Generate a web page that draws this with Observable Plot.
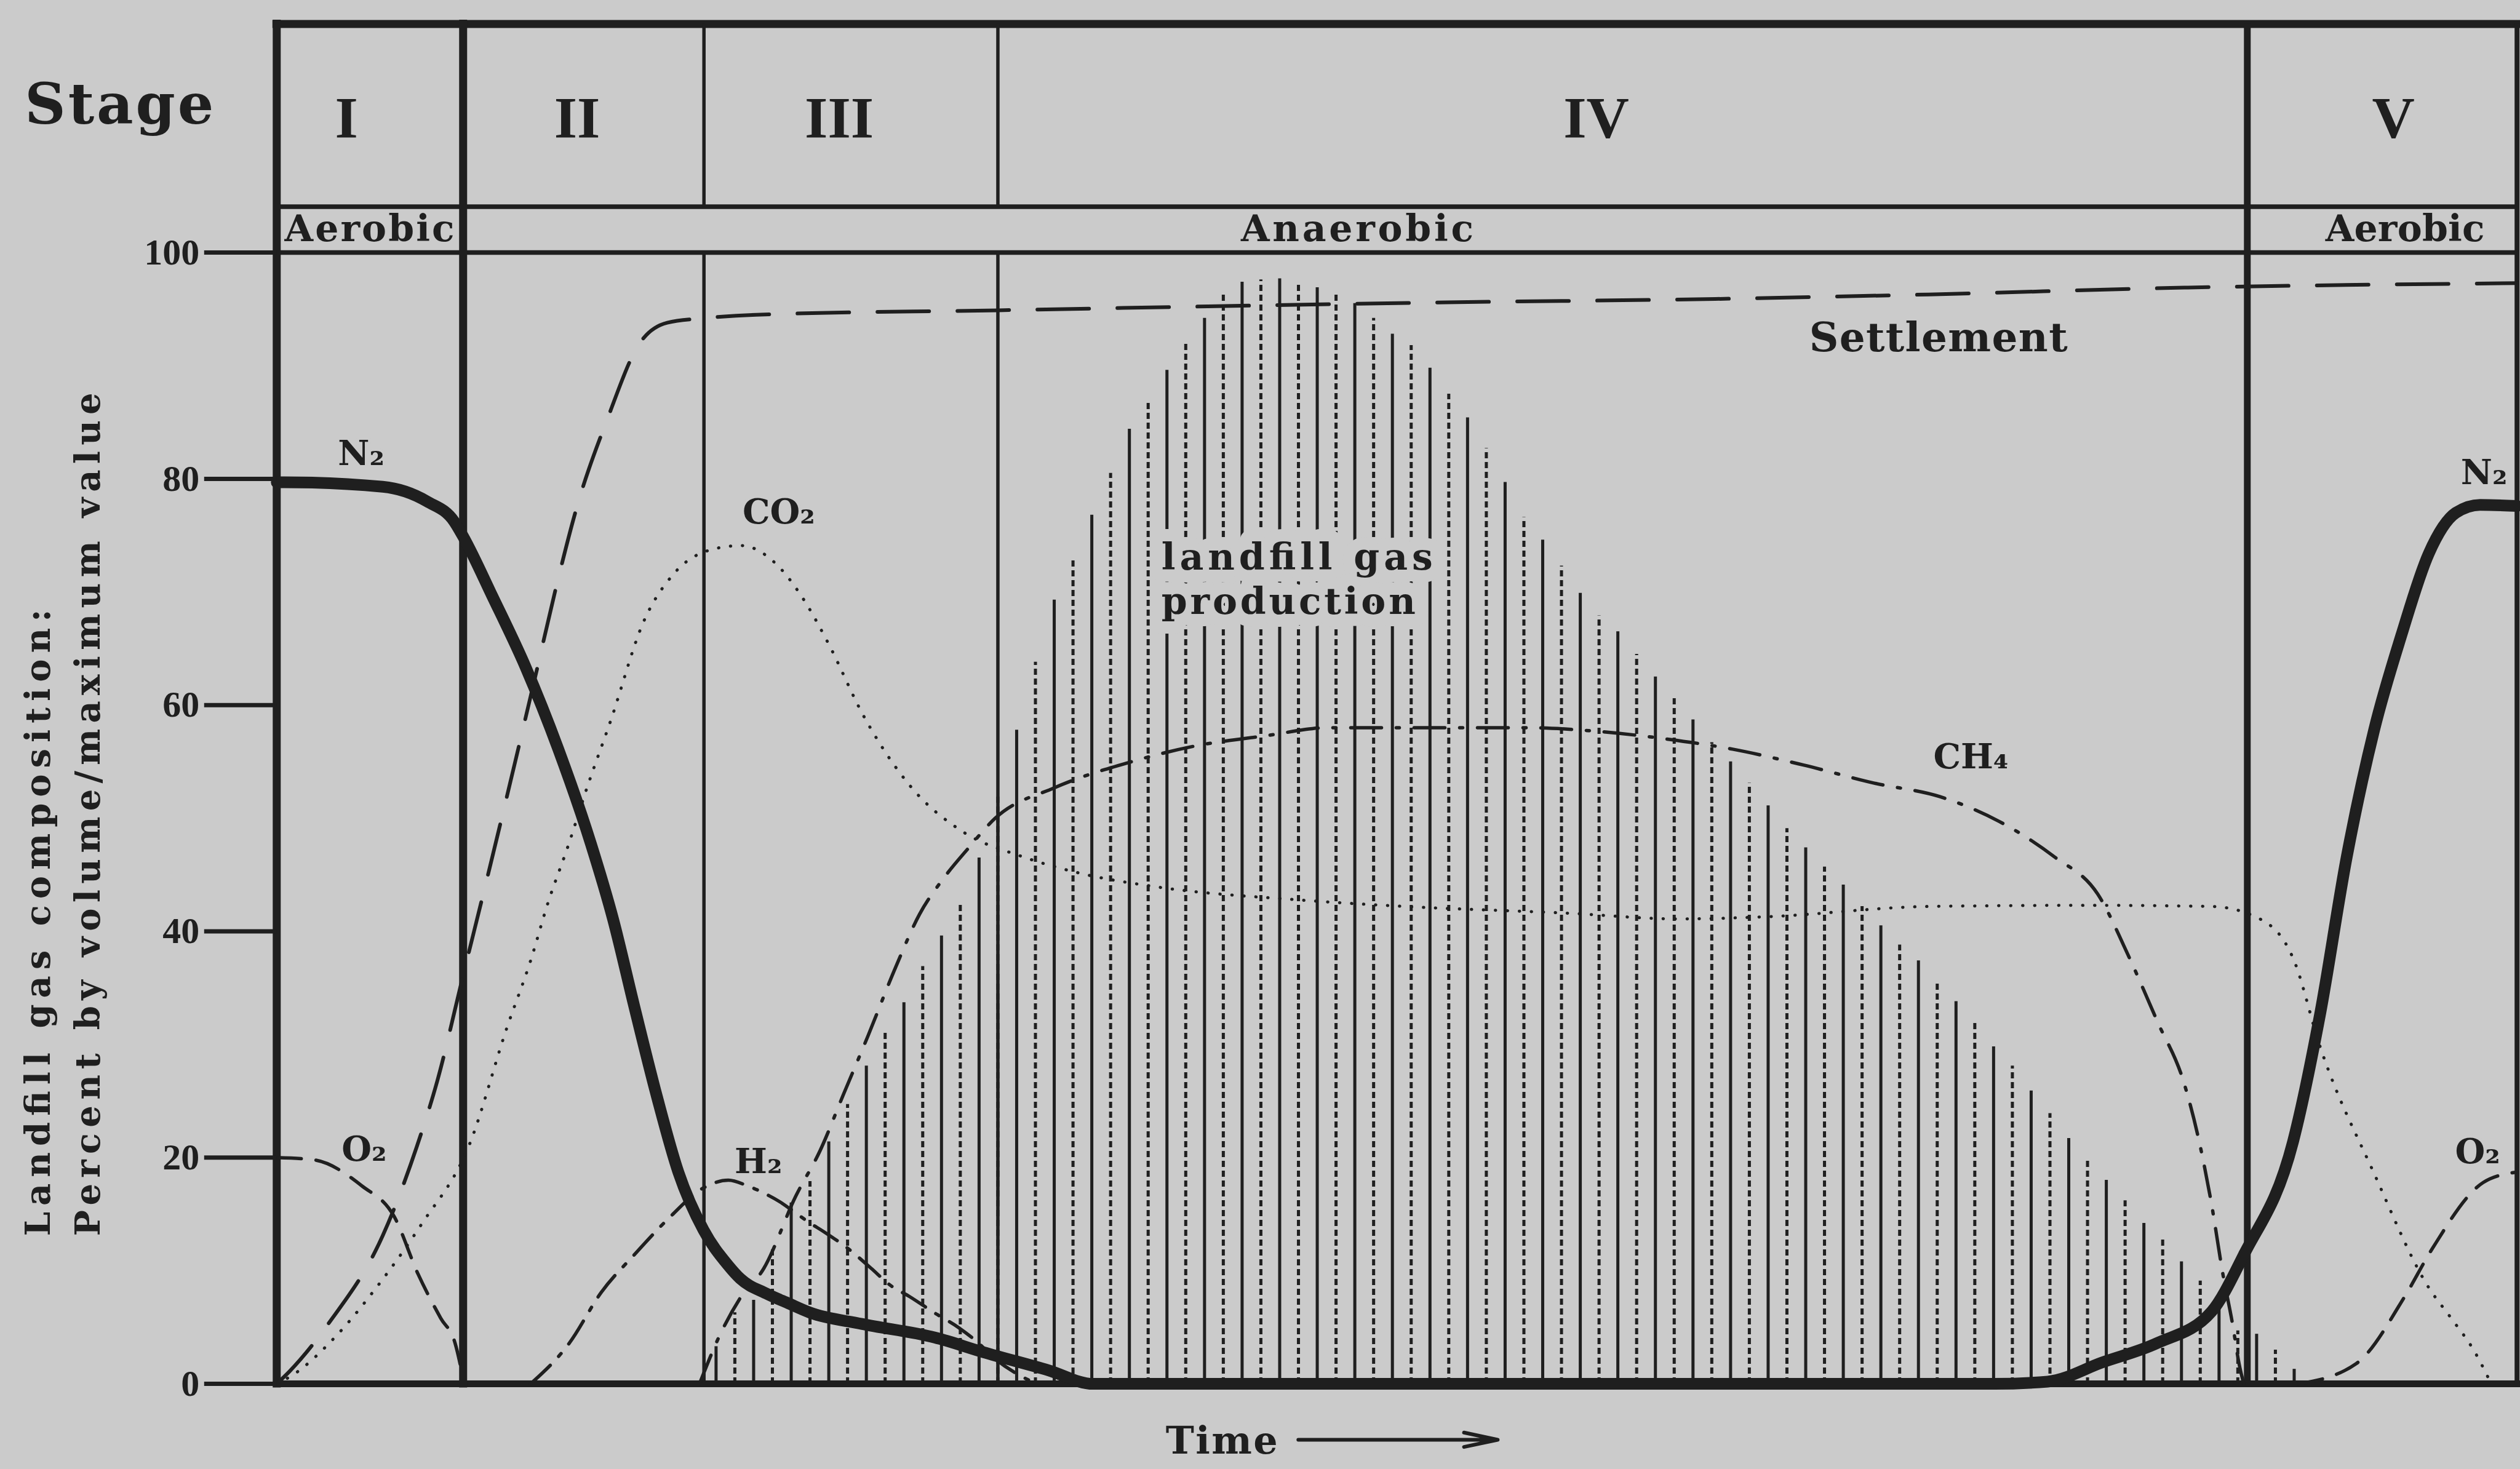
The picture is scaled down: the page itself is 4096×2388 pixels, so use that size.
<!DOCTYPE html>
<html>
<head>
<meta charset="utf-8">
<script src="https://cdn.jsdelivr.net/npm/d3@7"></script>
<script src="https://cdn.jsdelivr.net/npm/@observablehq/plot@0.6"></script>
<style>
  html, body { margin: 0; padding: 0; background: #cbcbcb; overflow: hidden; }
  #chart svg { display: block; }
</style>
</head>
<body>
<div id="chart"></div>
<script>
// ---------------- data (time in arbitrary units 0–100, values in % of volume / max) ----------------
const stageNames = ["I", "II", "III", "IV", "V"];
const stageBounds = [0, 8.32, 19.07, 32.19, 87.96, 100];
const phaseNames = ["Aerobic", "Anaerobic", "Aerobic"];
const yTicks = [0, 20, 40, 60, 80, 100];

const n2Time  = [0, 0.36, 4.73, 6.71, 7.93, 8.32, 9.63, 11.1, 12.57, 14.03, 15.01, 15.98, 16.97, 17.93, 19.05, 20.14, 20.69, 21.84, 22.86, 23.8, 26.11, 29.37, 31.54, 34.45, 36.44, 76.66, 79.05, 81.49, 83.93, 86.37, 87.8, 90.0, 91.21, 92.4, 93.62, 94.84, 96.06, 97.27, 98.35, 100];
const n2Value = [79.7, 79.7, 79.3, 78.0, 76.2, 74.9, 69.6, 63.4, 56.1, 47.7, 41.1, 33.2, 25.4, 18.7, 13.6, 10.5, 9.3, 8.0, 7.1, 6.3, 5.3, 4.1, 2.8, 1.2, 0, 0, 0.2, 1.9, 3.6, 6.4, 11.4, 21.4, 32.7, 46.6, 57.8, 66.2, 73.4, 77.0, 77.7, 77.6];

const co2Time  = [0, 0.65, 2.73, 4.52, 6.46, 8.61, 10.26, 11.33, 12.12, 12.98, 13.85, 14.92, 16.36, 17.72, 19.51, 20.73, 22.17, 23.53, 24.61, 26.18, 28.34, 30.63, 33.29, 35.72, 39.38, 45.48, 50.36, 57.68, 62.55, 66.57, 73.74, 80.92, 86.37, 88.52, 90.03, 91.21, 93.62, 96.06, 97.06, 98.06, 98.85];
const co2Value = [0, 0.7, 4.4, 8.7, 14.1, 21.2, 31.4, 37.4, 42.6, 47.4, 52.7, 58.7, 67.3, 71.6, 73.8, 74.1, 72.7, 69.3, 65.5, 59.1, 52.7, 48.8, 46.6, 45.2, 43.9, 42.8, 42.2, 41.6, 41.1, 41.3, 42.2, 42.3, 42.2, 41.1, 37.5, 29.8, 18.6, 8.5, 5.8, 3.0, 0];

const settleTime  = [0, 0.57, 2.3, 4.73, 6.24, 7.17, 8.32, 9.54, 10.62, 11.55, 12.48, 13.41, 14.78, 16.14, 17.43, 19.08, 21.38, 32.21, 52.22, 64.2, 73.74, 85.15, 100];
const settleValue = [0, 1.1, 5.3, 13.1, 20.9, 26.8, 36.1, 45.9, 54.8, 62.6, 70.5, 77.6, 85.4, 91.8, 93.8, 94.2, 94.5, 94.9, 95.6, 95.9, 96.3, 96.9, 97.3];

const ch4Time  = [18.87, 19.8, 20.66, 21.74, 23.17, 24.25, 25.32, 26.4, 27.62, 28.69, 29.77, 30.85, 32.07, 34.72, 38.16, 41.03, 44.19, 46.91, 50.29, 55.88, 58.82, 62.05, 64.99, 68.15, 71.31, 74.25, 76.9, 79.34, 81.28, 82.71, 83.93, 85.15, 85.87, 86.37, 86.87, 87.3, 87.59, 87.8];
const ch4Value = [0, 4.4, 7.5, 10.2, 16.6, 20.6, 25.7, 30.8, 36.8, 41.5, 44.7, 47.3, 50.0, 52.7, 55.0, 56.4, 57.3, 58.0, 58.0, 58.0, 57.7, 57.0, 56.1, 54.7, 53.1, 51.9, 49.7, 46.6, 43.3, 37.6, 32.1, 26.5, 20.9, 15.8, 9.7, 5.3, 1.8, 0];

const h2Time  = [11.33, 13.06, 14.49, 16.0, 17.58, 18.94, 20.16, 21.02, 21.81, 22.45, 23.1, 23.74, 24.46, 25.54, 26.54, 27.4, 28.26, 29.34, 30.42, 31.21, 32.14, 33.21, 33.93];
const h2Value = [0, 3.6, 8.1, 11.5, 14.8, 17.2, 18.0, 17.5, 16.8, 16.1, 15.2, 14.3, 13.4, 11.9, 10.2, 8.7, 7.7, 6.3, 5.0, 3.8, 2.1, 0.7, 0];

const o2StartTime  = [0, 1.65, 3.8, 5.24, 6.31, 7.32, 7.96, 8.32];
const o2StartValue = [20.0, 19.8, 17.5, 14.8, 9.7, 5.8, 3.6, 0.5];
const o2EndTime    = [90.24, 92.83, 94.98, 96.2, 98.49, 99.93];
const o2EndValue   = [0, 1.8, 7.7, 11.9, 17.8, 18.7];

// landfill gas production (hatching), one value per hatch line, regular time spacing
const prodStart = 19.61, prodSpacing = 0.8386;
const prodValue = [3.3, 6.3, 7.4, 11.9, 16.0, 17.9, 21.4, 24.7, 28.1, 31.0, 33.7, 36.9, 39.6, 42.5, 46.5, 52.0, 57.8, 63.8, 69.3, 73.0, 76.8, 80.5, 84.4, 87.0, 89.6, 92.0, 94.2, 96.3, 97.4, 97.6, 97.7, 97.4, 96.9, 96.3, 95.5, 94.2, 92.8, 91.8, 89.8, 87.5, 85.4, 82.7, 79.7, 76.6, 74.6, 72.3, 69.9, 67.9, 66.5, 64.5, 62.5, 60.9, 58.7, 56.7, 55.0, 53.1, 51.1, 49.1, 47.4, 45.7, 44.1, 42.2, 40.5, 38.8, 37.4, 35.4, 33.8, 32.1, 29.8, 28.1, 25.9, 23.9, 21.7, 19.7, 18.0, 16.2, 14.2, 12.8, 10.8, 9.1, 6.9, 4.7, 4.4, 3.0, 1.3];

// ---------------- annotation anchors (data space) ----------------
const stageLabelT = [3.11, 13.41, 25.11, 58.9, 94.48];
const phaseLabelT = [4.14, 48.23, 95.0];
const headerTop = 120.2, headerMid = 104.05, stageRowY = 111.8, phaseRowY = 102.05;
const productionLines = ["landfill gas", "production"];
const curveLabels = [
  {text: "N₂", t: 3.77, v: 82.2},
  {text: "N₂", t: 98.53, v: 80.5},
  {text: "CO₂", t: 22.41, v: 77.0},
  {text: "H₂", t: 21.5, v: 19.6},
  {text: "O₂", t: 3.9, v: 20.7},
  {text: "O₂", t: 98.24, v: 20.5},
  {text: "CH₄", t: 75.62, v: 55.4}
];

// ---------------- styling ----------------
const ink = "#1f1f1f", paper = "#cbcbcb";
const serif = "'DejaVu Serif', serif";
const times = "'Liberation Serif', serif";

const pts = (time, value) => time.map((t, i) => ({t, v: value[i]}));
const n2 = pts(n2Time, n2Value);
const co2 = pts(co2Time, co2Value);
const settle = pts(settleTime, settleValue);
const ch4 = pts(ch4Time, ch4Value);
const h2 = pts(h2Time, h2Value);
const o2a = pts(o2StartTime, o2StartValue);
const o2b = pts(o2EndTime, o2EndValue);
const prod = prodValue.map((v, i) => ({t: prodStart + i * prodSpacing, v, i}));

const lineOpts = {x: "t", y: "v", curve: "monotone-x", stroke: ink, fill: "none"};
const lfgOpts = {x: 39.49, y: (d, i) => [73.0, 69.1][i], text: d => d, textAnchor: "start",
  fontSize: 60, fontFamily: serif, fontWeight: "bold"};

const chart = Plot.plot({
  width: 4096,
  height: 2388,
  marginLeft: 449.3,
  marginRight: 5.3,
  marginTop: 410.1,
  marginBottom: 138.9,
  x: {domain: [0, 100], axis: null},
  y: {domain: [0, 100], axis: null},
  style: {background: paper, color: ink, fontFamily: serif, fontWeight: "bold", overflow: "visible"},
  marks: [
    // landfill gas production hatching
    Plot.ruleX(prod.filter(d => d.i % 2 === 0), {x: "t", y1: 0, y2: "v", stroke: ink, strokeWidth: 5}),
    Plot.ruleX(prod.filter(d => d.i % 2 === 1), {x: "t", y1: 0, y2: "v", stroke: ink, strokeWidth: 5, strokeDasharray: "10,6"}),

    // frame and stage grid
    Plot.ruleY([headerTop], {x1: 0, x2: 100, stroke: ink, strokeWidth: 13, strokeLinecap: "square"}),
    Plot.ruleY([headerMid], {x1: 0, x2: 100, stroke: ink, strokeWidth: 7.5}),
    Plot.ruleY([100], {x1: 0, x2: 100, stroke: ink, strokeWidth: 7.5}),
    Plot.ruleY([0], {x1: 0, x2: 100, stroke: ink, strokeWidth: 11, strokeLinecap: "square"}),
    Plot.ruleX([stageBounds[0], stageBounds[1]], {y1: 0, y2: headerTop, stroke: ink, strokeWidth: 13, strokeLinecap: "square"}),
    Plot.ruleX([stageBounds[4]], {y1: 0, y2: headerTop, stroke: ink, strokeWidth: 11}),
    Plot.ruleX([stageBounds[5]], {y1: 0, y2: headerTop, stroke: ink, strokeWidth: 8}),
    Plot.ruleX([stageBounds[2], stageBounds[3]], {y1: 0, y2: 100, stroke: ink, strokeWidth: 5.5}),
    Plot.ruleX([stageBounds[2], stageBounds[3]], {y1: headerMid, y2: headerTop, stroke: ink, strokeWidth: 5.5}),

    // gas curves
    Plot.line(co2, {...lineOpts, strokeWidth: 5, strokeDasharray: "0.5,19", strokeLinecap: "round"}),
    Plot.line(settle, {...lineOpts, strokeWidth: 6, strokeDasharray: "84,46"}),
    Plot.line(ch4, {...lineOpts, strokeWidth: 5.5, strokeDasharray: "50,24,5,24"}),
    Plot.line(h2, {...lineOpts, strokeWidth: 5.5, strokeDasharray: "44,20,6,20"}),
    Plot.line(o2a, {...lineOpts, strokeWidth: 5.5, strokeDasharray: "40,24"}),
    Plot.line(o2b, {...lineOpts, strokeWidth: 5.5, strokeDasharray: "40,24"}),
    Plot.line(n2, {...lineOpts, strokeWidth: 19, strokeLinejoin: "round"}),

    // y axis
    Plot.axisY({ticks: yTicks, tickSize: 117.5, tickPadding: 8, stroke: ink, strokeWidth: 7,
      fontSize: 60, fontFamily: times, fontWeight: "bold", label: null, tickFormat: d => String(d)}),

    // header texts
    Plot.text(["Stage"], {x: -7.03, y: 113.0, text: d => d, fontSize: 92, fontFamily: serif, fontWeight: "bold", fill: ink}),
    Plot.text(stageNames, {x: (d, i) => stageLabelT[i], y: stageRowY, text: d => d, fontSize: 96, fontFamily: times, fontWeight: "bold", fill: ink}),
    Plot.text(phaseNames, {x: (d, i) => phaseLabelT[i], y: phaseRowY, text: d => d, fontSize: 60, fontFamily: serif, fontWeight: "bold", fill: ink}),

    // y-axis title
    Plot.text(["Landfill gas composition:", "Percent by volume/maximum value"], {
      x: (d, i) => [-10.62, -8.39][i], y: 13.07, text: d => d, rotate: -90, textAnchor: "start",
      fontSize: 56, fontFamily: serif, fontWeight: "bold", fill: ink}),

    // "landfill gas production": clear patch first, then the words
    Plot.text(productionLines, {...lfgOpts, fill: paper, stroke: paper, strokeWidth: 40, strokeLinejoin: "round"}),
    Plot.text(productionLines, {...lfgOpts, fill: ink}),

    Plot.text(["Settlement"], {x: 74.17, y: 92.4, text: d => d, fontSize: 66, fontFamily: serif, fontWeight: "bold", fill: ink}),
    Plot.text(curveLabels, {x: "t", y: "v", text: "text", fontSize: 56, fontFamily: serif, fontWeight: "bold",
      fill: ink, stroke: paper, strokeWidth: 10, strokeLinejoin: "round"}),

    // time axis label
    Plot.text(["Time"], {x: 42.18, y: -5.1, text: d => d, fontSize: 62, fontFamily: serif, fontWeight: "bold", fill: ink}),
    Plot.arrow([{a: 45.6, b: 54.5, y: -4.94}], {x1: "a", x2: "b", y1: "y", y2: "y", stroke: ink, strokeWidth: 6, headLength: 14, headAngle: 24})
  ]
});

// fit the wide labels to the widths seen in the figure
const fitWidths = {
  "Landfill gas composition:": [1019],
  "Percent by volume/maximum value": [1371],
  "landfill gas": [441, 441],
  "production": [413, 413],
  "Settlement": [420],
  "Aerobic": [276, 259],
  "Anaerobic": [378],
  "Stage": [307],
  "Time": [182]
};
const used = {};
chart.querySelectorAll("text").forEach(el => {
  const s = el.textContent;
  const arr = fitWidths[s];
  if (!arr) return;
  const k = used[s] || 0;
  if (k < arr.length) {
    el.setAttribute("textLength", arr[k]);
    el.setAttribute("lengthAdjust", "spacing");
    used[s] = k + 1;
  }
});
chart.querySelectorAll('g[aria-label="y-axis tick label"]').forEach(g => {
  g.setAttribute("font-weight", "bold");
  g.setAttribute("font-family", times);
  g.setAttribute("font-size", 60);
});

document.getElementById("chart").appendChild(chart);
</script>
</body>
</html>
